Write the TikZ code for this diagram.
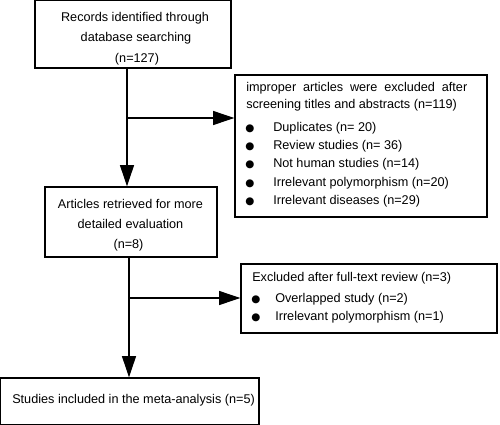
\documentclass[tikz,border=0pt]{standalone}
\usepackage{fontspec}
\setmainfont{Liberation Sans}
\newfontfamily\dejavu{DejaVu Sans}
\usetikzlibrary{arrows.meta,fit}
\newcommand{\bul}{{\dejavu\fontsize{7.8}{7.8}\selectfont ●}}
\begin{document}
\begin{tikzpicture}[x=0.75pt,y=-0.75pt,
  box/.style={draw,line width=0.9pt,inner sep=0pt},
  txt/.style={anchor=base,inner sep=0pt,font=\fontsize{9.5}{11}\selectfont},
  ltxt/.style={anchor=base west,inner sep=0pt,font=\fontsize{9.5}{11}\selectfont},
  bl/.style={anchor=base,inner sep=0pt},
  arr/.style={line width=0.9pt,-{Triangle[length=16pt,width=10.5pt]}}]
\useasboundingbox (0,0) rectangle (500,425);
% boxes
\node[box,fit={(35,0.6) (231,68)}] (b1) {};
\node[box,fit={(235,75) (487,217)}] (b2) {};
\node[box,fit={(45,187) (217,257)}] (b3) {};
\node[box,fit={(241,264) (497,333)}] (b4) {};
\node[box,fit={(0.6,378) (259,424.4)}] (b5) {};
% box 1 text
\node[txt] (t11) at (135,21.5) {Records identified through};
\node[txt] (t12) at (136,41.5) {database searching};
\node[txt] (t13) at (137,62) {(n=127)};
% box 2 text
\node[ltxt] (t21) at (246,91) {\makebox[165.75pt][s]{improper articles were excluded after}};
\node[ltxt] (t22) at (246,108) {screening titles and abstracts (n=119)};
\node[bl] (p1) at (250,131) {\bul};
\node[bl] (p2) at (250,149) {\bul};
\node[bl] (p3) at (250,167.5) {\bul};
\node[bl] (p4) at (250,186) {\bul};
\node[bl] (p5) at (250,204) {\bul};
\node[ltxt] (t23) at (273,131) {Duplicates (n= 20)};
\node[ltxt] (t24) at (273,149) {Review studies (n= 36)};
\node[ltxt] (t25) at (273,167.5) {Not human studies (n=14)};
\node[ltxt] (t26) at (273,186) {Irrelevant polymorphism (n=20)};
\node[ltxt] (t27) at (273,204) {Irrelevant diseases (n=29)};
% box 3 text
\node[txt] (t31) at (130.5,208) {Articles retrieved for more};
\node[txt] (t32) at (130.5,228) {detailed evaluation};
\node[txt] (t33) at (128.5,248) {(n=8)};
% box 4 text
\node[ltxt] (t41) at (252,281) {Excluded after full-text review (n=3)};
\node[bl] (p6) at (256,302) {\bul};
\node[bl] (p7) at (256,320) {\bul};
\node[ltxt] (t42) at (275,302) {Overlapped study (n=2)};
\node[ltxt] (t43) at (275,320) {Irrelevant polymorphism (n=1)};
% box 5 text
\node[ltxt] (t51) at (12,403) {Studies included in the meta-analysis (n=5)};
% connectors
\coordinate (j1) at (127,118);
\coordinate (j2) at (129,298);
\draw[arr] (b1.south -| j1) -- (b3.north -| j1);
\draw[arr] (j1) -- (j1 -| b2.west);
\draw[arr] (b3.south -| j2) -- (b5.north -| j2);
\draw[arr] (j2) -- (j2 -| b4.west);
\end{tikzpicture}
\end{document}
